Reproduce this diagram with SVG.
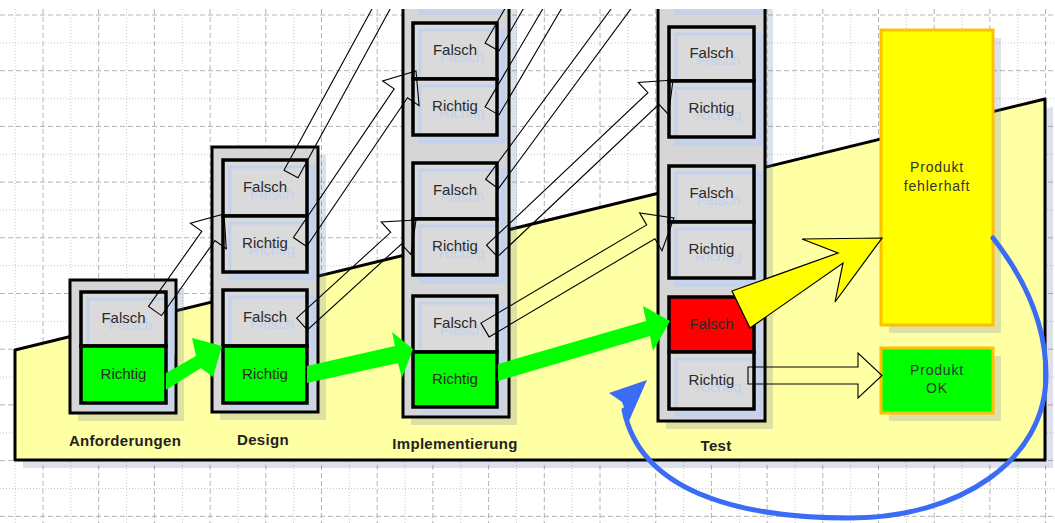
<svg xmlns="http://www.w3.org/2000/svg" width="1055" height="523" viewBox="0 0 1055 523">
<defs>
<style>
.gmaj{fill:none;stroke:#b2b2b2;stroke-width:1;stroke-dasharray:5 3}
.gmin{fill:none;stroke:#c9c9c9;stroke-width:1;stroke-dasharray:1 2}
.area{fill:#ffffa3;stroke:#000;stroke-width:3;stroke-linejoin:round}
.shadow{fill:#6478aa;fill-opacity:0.22}
.col{fill:#d6d6d6;stroke:#000;stroke-width:3}
.shin{fill:#c8d4ec}
.gray{fill:#dadada}
.green{fill:#00ff00}
.red{fill:#ff0000}
.yellow{fill:#ffff00}
.border{fill:none;stroke:#000;stroke-width:3.5}
.obox{stroke:#ffc000;stroke-width:3}
.gline{fill:none;stroke:#c3d1ec;stroke-width:3}
.t{font-family:"Liberation Sans",Arial,sans-serif;font-size:15px;text-anchor:middle;fill:#2a2a2a}
.gt{font-family:"Liberation Sans",Arial,sans-serif;font-size:15px;text-anchor:middle;fill:#c3d1ec}
.stage{font-family:"Liberation Sans",Arial,sans-serif;font-size:15px;font-weight:bold;letter-spacing:0.3px;text-anchor:middle;fill:#222}
.prod{font-family:"Liberation Sans",Arial,sans-serif;font-size:14px;letter-spacing:0.8px;text-anchor:middle;fill:#333}
.garr{fill:#00ff00}
.warr{fill:none;stroke:#000;stroke-width:1.1;stroke-linejoin:miter}
.yarr{fill:#ffff00;stroke:#000;stroke-width:1.2;stroke-linejoin:miter}
.blue{fill:none;stroke:#3b6cf5;stroke-width:5;stroke-linecap:round}
</style>
<clipPath id="clip"><rect x="0" y="9" width="1055" height="514"/></clipPath>
</defs>
<rect x="0" y="0" width="1055" height="523" fill="#ffffff"/>
<g clip-path="url(#clip)">
<g id="grid">
<path class="gmaj" d="M0 15H1055M0 70.7H1055M0 126.4H1055M0 182.1H1055M0 237.8H1055M0 293.5H1055M0 349.2H1055M0 404.9H1055M0 460.6H1055M0 516.3H1055M43 9V523M98.7 9V523M154.4 9V523M210.1 9V523M265.8 9V523M321.5 9V523M377.2 9V523M432.9 9V523M488.6 9V523M544.3 9V523M600 9V523M655.7 9V523M711.4 9V523M767.1 9V523M822.8 9V523M878.5 9V523M934.2 9V523M989.9 9V523M1045.6 9V523"/>
<path class="gmin" d="M0 42.9H1055M0 98.6H1055M0 154.3H1055M0 210H1055M0 265.7H1055M0 321.4H1055M0 377.1H1055M0 432.8H1055M0 488.5H1055M15.2 9V523M70.9 9V523M126.6 9V523M182.3 9V523M238 9V523M293.7 9V523M349.4 9V523M405.1 9V523M460.8 9V523M516.5 9V523M572.2 9V523M627.9 9V523M683.6 9V523M739.3 9V523M795 9V523M850.7 9V523M906.4 9V523M962.1 9V523M1017.8 9V523"/>
</g>
<g id="area">
<polygon class="shadow" points="23,358 1053,107 1053,468 23,468"/>
<polygon class="area" points="15,350 1045,99 1045,460 15,460"/>
</g>

<g id="anforderungen">
<rect class="shadow" x="78" y="288" width="106" height="133"/>
<rect class="col" x="70" y="280" width="106" height="133"/>
<g id="a-falsch"><rect class="shin" x="88" y="299" width="85" height="54"/><rect class="gray" x="81" y="292" width="85" height="54"/><rect class="gline" x="88" y="299" width="85" height="54"/><text class="gt" x="130.5" y="330">Falsch</text><text class="t" x="123.5" y="323">Falsch</text><rect class="border" x="81" y="292" width="85" height="54"/></g>
<g id="a-richtig"><rect class="shin" x="88" y="353" width="85" height="57"/><rect class="green" x="81" y="346" width="85" height="57"/><text class="t" x="123.5" y="379">Richtig</text><rect class="border" x="81" y="346" width="85" height="57"/></g>
<text class="stage" x="125" y="446">Anforderungen</text>
</g>

<g id="design">
<rect class="shadow" x="220" y="155" width="106" height="265"/>
<rect class="col" x="212" y="147" width="106" height="265"/>
<g id="d-falsch1"><rect class="shin" x="230" y="167" width="84" height="56"/><rect class="gray" x="223" y="160" width="84" height="56"/><rect class="gline" x="230" y="167" width="84" height="56"/><text class="gt" x="272" y="199">Falsch</text><text class="t" x="265" y="192">Falsch</text><rect class="border" x="223" y="160" width="84" height="56"/></g>
<g id="d-richtig1"><rect class="shin" x="230" y="223" width="84" height="56"/><rect class="gray" x="223" y="216" width="84" height="56"/><rect class="gline" x="230" y="223" width="84" height="56"/><text class="gt" x="272" y="255">Richtig</text><text class="t" x="265" y="248">Richtig</text><rect class="border" x="223" y="216" width="84" height="56"/></g>
<g id="d-falsch2"><rect class="shin" x="230" y="297" width="84" height="56"/><rect class="gray" x="223" y="290" width="84" height="56"/><rect class="gline" x="230" y="297" width="84" height="56"/><text class="gt" x="272" y="329">Falsch</text><text class="t" x="265" y="322">Falsch</text><rect class="border" x="223" y="290" width="84" height="56"/></g>
<g id="d-richtig2"><rect class="shin" x="230" y="353" width="84" height="57"/><rect class="green" x="223" y="346" width="84" height="57"/><text class="t" x="265" y="379">Richtig</text><rect class="border" x="223" y="346" width="84" height="57"/></g>
<text class="stage" x="263" y="445">Design</text>
</g>

<g id="implementierung">
<rect class="shadow" x="411" y="-22" width="106" height="447"/>
<rect class="col" x="403" y="-30" width="106" height="447"/>
<g id="i-richtig0"><rect class="shin" x="420" y="-43" width="84" height="56"/><rect class="gray" x="413" y="-50" width="84" height="56"/><rect class="gline" x="420" y="-43" width="84" height="56"/><rect class="border" x="413" y="-50" width="84" height="56"/></g>
<g id="i-falsch1"><rect class="shin" x="420" y="30" width="84" height="56"/><rect class="gray" x="413" y="23" width="84" height="56"/><rect class="gline" x="420" y="30" width="84" height="56"/><text class="gt" x="462" y="62">Falsch</text><text class="t" x="455" y="55">Falsch</text><rect class="border" x="413" y="23" width="84" height="56"/></g>
<g id="i-richtig1"><rect class="shin" x="420" y="86" width="84" height="56"/><rect class="gray" x="413" y="79" width="84" height="56"/><rect class="gline" x="420" y="86" width="84" height="56"/><text class="gt" x="462" y="118">Richtig</text><text class="t" x="455" y="111">Richtig</text><rect class="border" x="413" y="79" width="84" height="56"/></g>
<g id="i-falsch2"><rect class="shin" x="420" y="170" width="84" height="56"/><rect class="gray" x="413" y="163" width="84" height="56"/><rect class="gline" x="420" y="170" width="84" height="56"/><text class="gt" x="462" y="202">Falsch</text><text class="t" x="455" y="195">Falsch</text><rect class="border" x="413" y="163" width="84" height="56"/></g>
<g id="i-richtig2"><rect class="shin" x="420" y="226" width="84" height="56"/><rect class="gray" x="413" y="219" width="84" height="56"/><rect class="gline" x="420" y="226" width="84" height="56"/><text class="gt" x="462" y="258">Richtig</text><text class="t" x="455" y="251">Richtig</text><rect class="border" x="413" y="219" width="84" height="56"/></g>
<g id="i-falsch3"><rect class="shin" x="420" y="303" width="84" height="56"/><rect class="gray" x="413" y="296" width="84" height="56"/><rect class="gline" x="420" y="303" width="84" height="56"/><text class="gt" x="462" y="335">Falsch</text><text class="t" x="455" y="328">Falsch</text><rect class="border" x="413" y="296" width="84" height="56"/></g>
<g id="i-richtig3"><rect class="shin" x="420" y="359" width="84" height="55"/><rect class="green" x="413" y="352" width="84" height="55"/><text class="t" x="455" y="384">Richtig</text><rect class="border" x="413" y="352" width="84" height="55"/></g>
<text class="stage" x="455" y="449">Implementierung</text>
</g>

<g id="test">
<rect class="shadow" x="666" y="-22" width="107" height="451"/>
<rect class="col" x="658" y="-30" width="107" height="451"/>
<g id="t-richtig0"><rect class="shin" x="676" y="-43" width="85" height="56"/><rect class="gray" x="669" y="-50" width="85" height="56"/><rect class="gline" x="676" y="-43" width="85" height="56"/><rect class="border" x="669" y="-50" width="85" height="56"/></g>
<g id="t-falsch1"><rect class="shin" x="676" y="34" width="85" height="54"/><rect class="gray" x="669" y="27" width="85" height="54"/><rect class="gline" x="676" y="34" width="85" height="54"/><text class="gt" x="718.5" y="65">Falsch</text><text class="t" x="711.5" y="58">Falsch</text><rect class="border" x="669" y="27" width="85" height="54"/></g>
<g id="t-richtig1"><rect class="shin" x="676" y="88" width="85" height="56"/><rect class="gray" x="669" y="81" width="85" height="56"/><rect class="gline" x="676" y="88" width="85" height="56"/><text class="gt" x="718.5" y="120">Richtig</text><text class="t" x="711.5" y="113">Richtig</text><rect class="border" x="669" y="81" width="85" height="56"/></g>
<g id="t-falsch2"><rect class="shin" x="676" y="173" width="85" height="56"/><rect class="gray" x="669" y="166" width="85" height="56"/><rect class="gline" x="676" y="173" width="85" height="56"/><text class="gt" x="718.5" y="205">Falsch</text><text class="t" x="711.5" y="198">Falsch</text><rect class="border" x="669" y="166" width="85" height="56"/></g>
<g id="t-richtig2"><rect class="shin" x="676" y="229" width="85" height="56"/><rect class="gray" x="669" y="222" width="85" height="56"/><rect class="gline" x="676" y="229" width="85" height="56"/><text class="gt" x="718.5" y="261">Richtig</text><text class="t" x="711.5" y="254">Richtig</text><rect class="border" x="669" y="222" width="85" height="56"/></g>
<g id="t-falsch3"><rect class="shin" x="676" y="304" width="85" height="55"/><rect class="red" x="669" y="297" width="85" height="55"/><text class="t" x="711.5" y="329">Falsch</text><rect class="border" x="669" y="297" width="85" height="55"/></g>
<g id="t-richtig3"><rect class="shin" x="676" y="359" width="85" height="57"/><rect class="gray" x="669" y="352" width="85" height="57"/><rect class="gline" x="676" y="359" width="85" height="57"/><text class="gt" x="718.5" y="392">Richtig</text><text class="t" x="711.5" y="385">Richtig</text><rect class="border" x="669" y="352" width="85" height="57"/></g>
<text class="stage" x="716" y="451">Test</text>
</g>

<g id="produkt-fehlerhaft">
<rect class="shadow" x="889" y="38" width="112" height="295"/>
<rect class="yellow obox" x="881" y="30" width="112" height="295"/>
<text class="prod" x="937" y="172">Produkt</text>
<text class="prod" x="937" y="191">fehlerhaft</text>
</g>
<g id="produkt-ok">
<rect class="shadow" x="889" y="356" width="112" height="65"/>
<rect class="green obox" x="881" y="348" width="112" height="65"/>
<text class="prod" x="937" y="375">Produkt</text>
<text class="prod" x="937" y="393">OK</text>
</g>

<g id="connectors">
<polygon class="garr" points="166,373 196,356 192,338 222,346 213,377 201,368 166,390"/>
<polygon class="garr" points="307,366 395,346 392,332 413,349 402,378 398,363 307,383"/>
<polygon class="garr" points="498,364 646,321 643,306 670,321 653,351 650,336 498,381"/>
<polygon class="yarr" points="732,291 838,253 802,239 882,238 835,302 843,263 750,328"/>
<polygon class="warr" points="148.5,306.4 201.8,231.4 190.4,223.2 224,214 226.3,248.8 214.9,240.6 161.5,315.6"/>
<polygon class="warr" points="284,170.2 414.8,-69.5 402.5,-76.2 434.7,-89.4 441.1,-55.2 428.8,-61.9 298,177.8"/>
<polygon class="warr" points="293.4,237.5 394.2,88.9 382.6,81 416,71 419.1,105.7 407.5,97.8 306.6,246.5"/>
<polygon class="warr" points="296.6,318.1 390.7,232.3 381.2,221.9 416,220 410.9,254.5 401.4,244.1 307.4,329.9"/>
<polygon class="warr" points="485.1,43 531.6,-37.5 519.4,-44.5 552,-56.9 557.6,-22.5 545.4,-29.5 498.9,51"/>
<polygon class="warr" points="485.1,106.9 582.9,-59.4 570.8,-66.5 603.5,-78.6 608.8,-44.1 596.7,-51.2 498.9,115.1"/>
<polygon class="warr" points="485.6,179.3 647.5,-40.5 636.2,-48.8 669.9,-57.5 671.6,-22.8 660.3,-31.1 498.4,188.7"/>
<polygon class="warr" points="486.5,245.2 647.9,92.7 638.3,82.5 673,80 668.5,114.5 658.9,104.3 497.5,256.8"/>
<polygon class="warr" points="480.9,323.1 646.7,224.9 639.6,212.9 674,218 662,250.7 654.9,238.7 489.1,336.9"/>
<polygon class="warr" points="748,367 858,367 858,353 882,375.5 858,398 858,384 748,384"/>
<path class="blue" d="M993 238C1022 275 1046 320 1046 375C1046 460 960 518 850 518C735 518 640 490 624 410"/>
<polygon fill="#3b6cf5" points="647,380 609,393 622,402 629,421"/>
</g>
</g>
</svg>
